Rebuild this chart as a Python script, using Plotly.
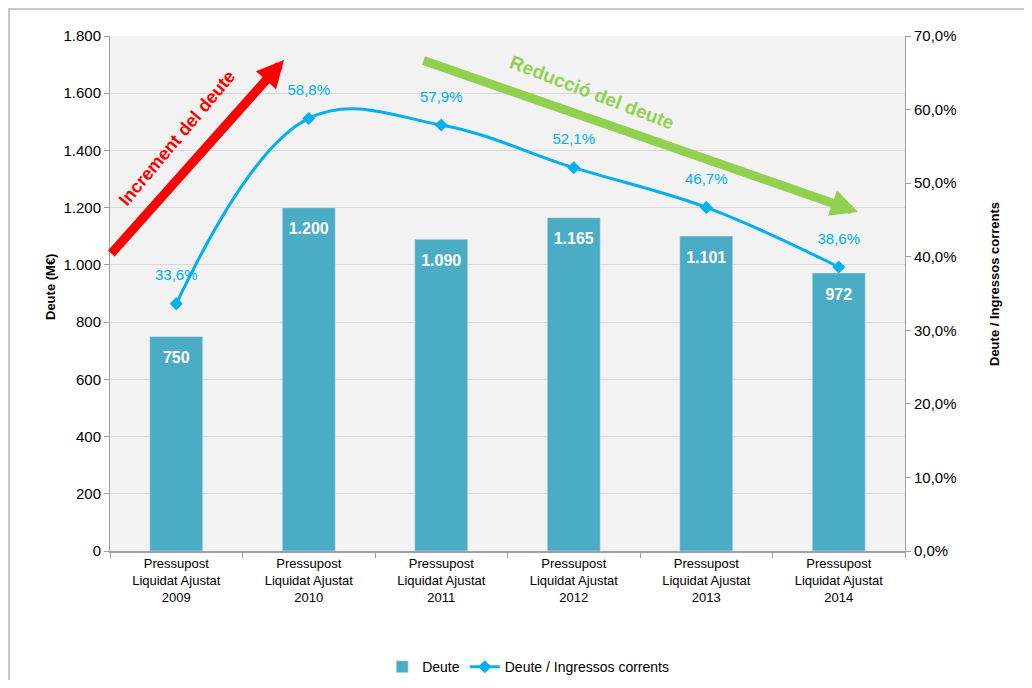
import plotly.graph_objects as go

categories = ["Pressupost<br>Liquidat Ajustat<br>2009", "Pressupost<br>Liquidat Ajustat<br>2010",
              "Pressupost<br>Liquidat Ajustat<br>2011", "Pressupost<br>Liquidat Ajustat<br>2012",
              "Pressupost<br>Liquidat Ajustat<br>2013", "Pressupost<br>Liquidat Ajustat<br>2014"]
deute = [750, 1200, 1090, 1165, 1101, 972]
ratio = [33.6, 58.8, 57.9, 52.1, 46.7, 38.6]

FONT = "Liberation Sans Narrow, Arial Narrow, Liberation Sans, Arial, sans-serif"
BAR_C = "#4BACC6"
LINE_C = "#00B0F0"

# plot area in reference pixels: x 110..905, y 36..551
def px(x):
    return (x - 110) / 795


def py(y):
    return (551 - y) / 515


fig = go.Figure()
fig.add_trace(go.Bar(
    x=categories, y=deute, name="Deute", marker_color=BAR_C, width=0.4,
))
# bar value labels (white, inside near the top)
fig.add_trace(go.Scatter(
    x=categories, y=deute, mode="markers+text", showlegend=False, hoverinfo="skip",
    marker=dict(size=22, opacity=0, color=BAR_C),
    texttemplate="<b>%{y:,.0f}</b>", textposition="bottom center",
    textfont=dict(color="white", size=16, family=FONT),
))
fig.add_trace(go.Scatter(
    x=categories, y=ratio, name="Deute / Ingressos corrents", yaxis="y2",
    mode="lines+markers", line=dict(color=LINE_C, width=3, shape="spline", smoothing=1.1),
    marker=dict(symbol="diamond", size=10, color=LINE_C),
))
# line value labels
fig.add_trace(go.Scatter(
    x=categories, y=ratio, yaxis="y2", mode="markers+text", showlegend=False, hoverinfo="skip",
    marker=dict(size=30, opacity=0, color=LINE_C),
    texttemplate="%{y:.1f}%", textposition="top center",
    textfont=dict(color=LINE_C, size=15, family=FONT),
))

fig.update_layout(
    width=1016, height=672, autosize=False,
    margin=dict(l=102, r=119, t=28, b=129, autoexpand=False),
    paper_bgcolor="white", plot_bgcolor="#F2F2F2",
    separators=",.",
    font=dict(family=FONT, size=14, color="black"),
    bargap=0.6,
    showlegend=True,
    legend=dict(orientation="h", xref="container", yref="container", x=0.512, xanchor="center",
                y=0.019, yanchor="middle", font=dict(size=14, family=FONT),
                traceorder="normal"),
    xaxis=dict(showline=True, linecolor="#A0A0A0", linewidth=1.5, ticks="outside",
               tickson="boundaries", ticklen=5, tickcolor="#A0A0A0", tickangle=0,
               automargin=False,
               tickfont=dict(size=13, family=FONT), showgrid=False),
    yaxis=dict(range=[0, 1800], dtick=200, tickformat=",.0f", showline=True,
               linecolor="#A0A0A0", linewidth=1, ticks="outside", ticklen=5,
               tickcolor="#A0A0A0", gridcolor="#D9D9D9", zeroline=False, automargin=False,
               tickfont=dict(size=15, family=FONT)),
    yaxis2=dict(range=[0, 70], dtick=10, tickformat=".1f", ticksuffix="%", overlaying="y",
                side="right", showline=True, linecolor="#A0A0A0", linewidth=1,
                ticks="outside", ticklen=5, tickcolor="#A0A0A0", showgrid=False,
                zeroline=False, automargin=False,
                tickfont=dict(size=15, family=FONT)),
)

# Axis titles
fig.add_annotation(xref="paper", yref="paper", x=px(50), y=py(287), xanchor="center", yanchor="middle",
                   text="<b>Deute (M€)</b>", showarrow=False, textangle=-90,
                   font=dict(size=13, family=FONT))
fig.add_annotation(xref="paper", yref="paper", x=px(994), y=py(284), xanchor="center", yanchor="middle",
                   text="<b>Deute / Ingressos corrents</b>", showarrow=False, textangle=-90,
                   font=dict(size=13, family=FONT))

# Outer border
fig.add_shape(type="rect", xref="paper", yref="paper",
              x0=px(9), x1=px(1040), y0=py(700), y1=py(9),
              line=dict(color="#C8C8C8", width=2), fillcolor="rgba(0,0,0,0)", layer="below")

# Arrows
fig.add_annotation(xref="paper", yref="paper", x=px(284), y=py(60),
                   ax=-174, ay=195, showarrow=True, arrowhead=2, arrowsize=0.6,
                   arrowwidth=9, arrowcolor="#FF0000", text="")
fig.add_annotation(xref="paper", yref="paper", x=px(858), y=py(212),
                   ax=-436, ay=-152, showarrow=True, arrowhead=2, arrowsize=0.6,
                   arrowwidth=9, arrowcolor="#92D050", text="")
fig.add_annotation(xref="paper", yref="paper", x=px(177), y=py(138), xanchor="center", yanchor="middle",
                   text="<b>Increment del deute</b>", showarrow=False, textangle=-50,
                   font=dict(color="#FF0000", size=18, family=FONT))
fig.add_annotation(xref="paper", yref="paper", x=px(592), y=py(92), xanchor="center", yanchor="middle",
                   text="<b>Reducció del deute</b>", showarrow=False, textangle=21,
                   font=dict(color="#92D050", size=19, family=FONT))

fig.write_html("out.html")
